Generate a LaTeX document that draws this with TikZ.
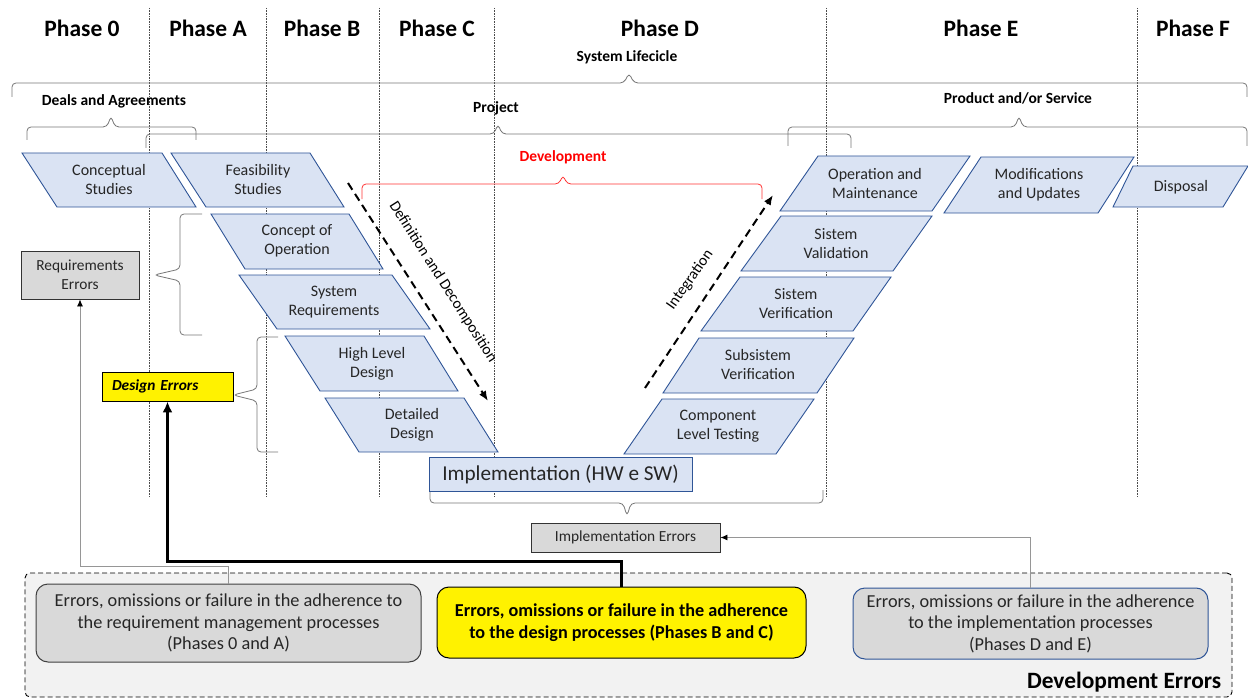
\documentclass[tikz,border=0pt]{standalone}
\usepackage{fontspec}
\setmainfont{Carlito}
\usetikzlibrary{arrows.meta}
\definecolor{boxblue}{RGB}{218,227,243}
\definecolor{edgeblue}{RGB}{47,85,151}
\definecolor{errgray}{RGB}{217,217,217}
\definecolor{panelgray}{RGB}{242,242,242}
\definecolor{bracegray}{RGB}{118,118,118}
\definecolor{linegray}{RGB}{150,150,150}

\begin{document}
\begin{tikzpicture}[x=1pt,y=-1pt,
    phase/.style={font=\fontsize{23.5}{26}\selectfont\bfseries},
    lbl/.style={font=\fontsize{15.5}{18}\selectfont\bfseries},
    para/.style={draw=edgeblue, fill=boxblue, line width=0.9pt},
    ptxt/.style={align=center, inner sep=0pt, text=black!85, font=\fontsize{16}{19}\selectfont},
    brc/.style={draw=bracegray, rounded corners=4pt, line width=0.8pt},
    sep/.style={draw=black!70, densely dotted, line width=0.6pt},
    dasharr/.style={line width=2pt, dash pattern=on 8pt off 5pt, -{Latex[length=10pt,width=8pt]}},
    errbox/.style={draw=black!80, fill=errgray, line width=0.9pt, align=center, text=black!85, inner sep=0pt},
    procbox/.style={rounded corners=12pt, line width=1pt, align=center, inner sep=0pt, font=\fontsize{18.3}{21.5}\selectfont}]
    \useasboundingbox (0,0) rectangle (1248,698);

    % phase separators
    \draw[sep] (149,8) -- (149,497);
    \draw[sep] (266,8) -- (266,497);
    \draw[sep] (379,8) -- (379,497);
    \draw[sep] (494,8) -- (494,497);
    \draw[sep] (826,8) -- (826,497);
    \draw[sep] (1137,8) -- (1137,497);

    \node[phase] (ph0) at (82,28) {Phase 0};
    \node[phase] (pha) at (208,28) {Phase A};
    \node[phase] (phb) at (322,28) {Phase B};
    \node[phase] (phc) at (437,28) {Phase C};
    \node[phase] (phd) at (660,28) {Phase D};
    \node[phase] (phe) at (981,28) {Phase E};
    \node[phase] (phf) at (1193,28) {Phase F};

    % braces
    \node[lbl] (life) at (627,57) {System Lifecicle};
    \draw[brc] (12,97) -- (12,83) -- (624,83) -- (629,73) -- (634,83) -- (1247,83) -- (1247,97);
    \node[lbl] (deals) at (114,101) {Deals and Agreements};
    \draw[brc] (27,140) -- (27,127) -- (107,127) -- (111,116) -- (115,127) -- (196,127) -- (196,140);
    \node[lbl] (proj) at (496,108) {Project};
    \draw[brc] (146,148) -- (146,134) -- (494,134) -- (498,124) -- (502,134) -- (851,134) -- (851,148);
    \node[lbl] (prod) at (1018,98) {Product and/or Service};
    \draw[brc] (788,146) -- (788,127) -- (1015,127) -- (1019,116) -- (1023,127) -- (1247,127) -- (1247,146);
    \node[lbl, text=red] (dev) at (563,157) {Development};
    \draw[brc, draw=red!80] (362,199) -- (362,184) -- (559,184) -- (563,175) -- (567,184) -- (762,184) -- (762,199);
    \draw[brc] (430,489) -- (430,503) -- (623,503) -- (627,516) -- (631,503) -- (823,503) -- (823,490);
    \draw[brc] (202,214) -- (180,214) -- (180,269) -- (154,275) -- (180,281) -- (180,335) -- (202,335);
    \draw[brc] (278,337) -- (257,337) -- (257,389) -- (233,395) -- (257,401) -- (257,452) -- (278,452);

    % left branch
    \draw[para] (22,153) -- (162,153) -- (196,207) -- (57,207) -- cycle;
    \node[ptxt] (concept) at (109,180) {Conceptual\\Studies};
    \draw[para] (171,153) -- (310,153) -- (344,207) -- (206,207) -- cycle;
    \node[ptxt] (feas) at (258,180) {Feasibility\\Studies};
    \draw[para] (211,214) -- (349,214) -- (383,269) -- (245,269) -- cycle;
    \node[ptxt] (conops) at (297,241) {Concept of\\Operation};
    \draw[para] (239,275) -- (392,275) -- (430,329) -- (277,329) -- cycle;
    \node[ptxt] (sysreq) at (334,302) {System\\Requirements};
    \draw[para] (285,336) -- (424,336) -- (458,391) -- (320,391) -- cycle;
    \node[ptxt] (hld) at (372,364) {High Level\\Design};
    \draw[para] (325,398) -- (464,398) -- (498,452) -- (359,452) -- cycle;
    \node[ptxt] (dd) at (412,425) {Detailed\\Design};

    % right branch
    \draw[para] (662,399) -- (814,399) -- (776,454) -- (624,454) -- cycle;
    \node[ptxt] (clt) at (718,426) {Component\\Level Testing};
    \draw[para] (699,338) -- (854,338) -- (817,393) -- (663,393) -- cycle;
    \node[ptxt] (subver) at (758,365) {Subsistem\\Verification};
    \draw[para] (740,277) -- (891,277) -- (853,331) -- (701,331) -- cycle;
    \node[ptxt] (sisver) at (796,304) {Sistem\\Verification};
    \draw[para] (781,216) -- (932,216) -- (893,271) -- (741,271) -- cycle;
    \node[ptxt] (sisval) at (836,244) {Sistem\\Validation};
    \draw[para] (818,156) -- (970,156) -- (932,211) -- (780,211) -- cycle;
    \node[ptxt] (opmaint) at (875,184) {Operation and\\Maintenance};
    \draw[para] (981,157) -- (1134,157) -- (1098,213) -- (944,213) -- cycle;
    \node[ptxt] (modupd) at (1039,185) {Modifications\\and Updates};
    \draw[para] (1133,166) -- (1248,166) -- (1223,207) -- (1113,207) -- cycle;
    \node[ptxt] (disposal) at (1181,187) {Disposal};

    \node[para, minimum width=263, minimum height=34, inner sep=0pt, text=black!85,
          font=\fontsize{21.2}{24}\selectfont] (impl) at (560.5,474) {Implementation (HW e SW)};

    % process arrows
    \coordinate (defA) at (348,183);
    \coordinate (defB) at (488,401);
    \draw[dasharr] (defA) -- (defB);
    \node[font=\fontsize{15.5}{17}\selectfont, rotate=-57.5] (deflbl) at (443,282) {Definition and Decomposition};
    \coordinate (intA) at (645,388);
    \coordinate (intB) at (773,195);
    \draw[dasharr] (intA) -- (intB);
    \node[font=\fontsize{15.5}{17}\selectfont, rotate=55] (intlbl) at (690,280) {Integration};

    % error boxes
    \node[errbox, minimum width=118, minimum height=48, font=\fontsize{15.4}{19}\selectfont] (reqerr) at (80,275) {Requirements\\Errors};
    \node[errbox, fill=yellow, draw=black, text=black, minimum height=29, text width=111, inner xsep=10pt, align=left,
          font=\fontsize{15.4}{17}\selectfont\bfseries\itshape] (deserr) at (167.5,386.5) {Design Errors};
    \node[errbox, minimum width=189, minimum height=29, font=\fontsize{15.4}{17}\selectfont] (imperr) at (625.5,537.5) {Implementation Errors};

    % development errors panel
    \node[draw=black, fill=panelgray, dash pattern=on 5pt off 3pt, line width=0.9pt, rounded corners=5pt,
          minimum width=1207, minimum height=124, inner sep=0pt] (deverrs) at (628.5,635) {};
    \node[anchor=south east, inner xsep=11pt, inner ysep=5pt, font=\fontsize{23.4}{26}\selectfont\bfseries] (deverrlbl) at (deverrs.south east) {Development Errors};

    \node[procbox, draw=black!75, fill=errgray, text=black!85, minimum width=385, minimum height=78] (reqproc) at (228.5,623)
        {Errors, omissions or failure in the adherence to\\the requirement management processes\\(Phases 0 and A)};
    \node[procbox, draw=black, fill=yellow, minimum width=369, minimum height=71,
          font=\fontsize{18.2}{22.5}\selectfont\bfseries] (desproc) at (621.5,622.5)
        {Errors, omissions or failure in the adherence\\to the design processes (Phases B and C)};
    \node[procbox, draw=edgeblue, fill=errgray, text=black!85, minimum width=355, minimum height=71] (implproc) at (1030.5,623.5)
        {Errors, omissions or failure in the adherence\\to the implementation processes\\(Phases D and E)};

    % feedback lines
    \draw[linegray, line width=0.8pt, -{Latex[length=7pt,width=6pt,black]}] (reqproc.north) -- ++(0,-17) -| (reqerr.south);
    \draw[black, line width=3pt, -{Latex[length=11pt,width=10pt]}] (desproc.north) -- ++(0,-25) -| (deserr.south);
    \draw[linegray, line width=0.8pt, -{Latex[length=7pt,width=6pt,black]}] (implproc.north) |- (imperr.east);
\end{tikzpicture}
\end{document}
